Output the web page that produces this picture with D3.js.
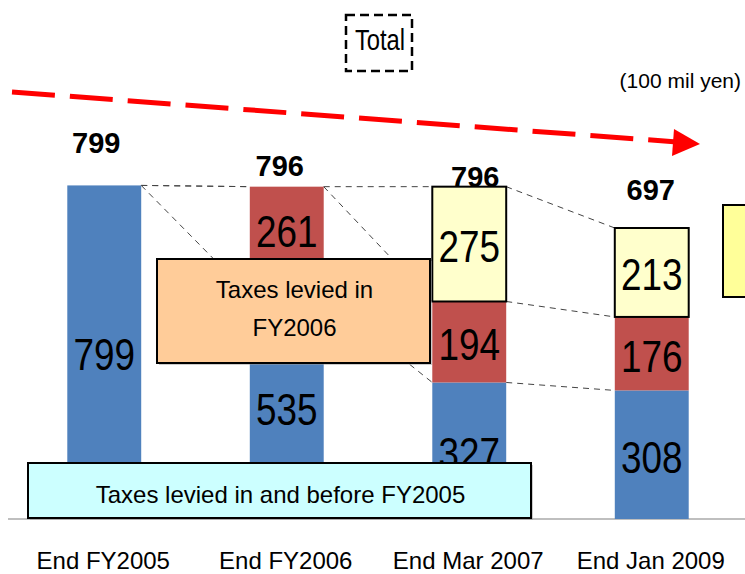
<!DOCTYPE html>
<html>
<head>
  <meta charset="utf-8">
  <title>Tax arrears breakdown</title>
  <script src="https://cdn.jsdelivr.net/npm/d3@7/dist/d3.min.js"></script>
  <style>
    body { margin: 0; background: #fff; }
    svg { display: block; font-family: "Liberation Sans", Arial, sans-serif; }
  </style>
</head>
<body>
  <svg width="745" height="574"></svg>

  <script>
    // data (100 mil yen)
    const categories = ["End FY2005", "End FY2006", "End Mar 2007", "End Jan 2009"];
    const before2005 = [799, 535, 327, 308];
    const fy2006 = [0, 261, 194, 176];
    const fy2007 = [0, 0, 275, 213];
    const totals = [799, 796, 796, 697];

    const blue = "#4F81BD", red = "#C0504D", yellow = "#FFFFCC";

    const svg = d3.select("svg");

    const x = d3.scaleBand()
      .domain(categories)
      .range([13, 743])
      .paddingInner(0.595)
      .paddingOuter(0.2975);

    const y = d3.scaleLinear()
      .domain([0, 800])
      .range([519, 185]);

    // stacked rows
    const rows = categories.map((c, i) => ({
      cat: c,
      segs: [
        { key: "b", v: before2005[i], y0: 0, y1: before2005[i], fill: blue },
        { key: "r", v: fy2006[i], y0: before2005[i], y1: before2005[i] + fy2006[i], fill: red },
        { key: "y", v: fy2007[i], y0: before2005[i] + fy2006[i], y1: before2005[i] + fy2006[i] + fy2007[i], fill: yellow }
      ].filter(s => s.v > 0)
    }));

    // connectors between bars
    const levels = categories.map((c, i) => [before2005[i], before2005[i] + fy2006[i], totals[i]]);
    const conn = svg.append("g");
    for (let i = 0; i < categories.length - 1; i++) {
      levels[i].forEach((v, k) => {
        conn.append("line")
          .attr("x1", x(categories[i]) + x.bandwidth())
          .attr("y1", y(v))
          .attr("x2", x(categories[i + 1]))
          .attr("y2", y(levels[i + 1][k]))
          .attr("stroke", "#444")
          .attr("stroke-width", 1)
          .attr("stroke-dasharray", "6,5");
      });
    }

    // axis baseline
    svg.append("line")
      .attr("x1", 8).attr("x2", 745)
      .attr("y1", y(0)).attr("y2", y(0))
      .attr("stroke", "#BFBFBF")
      .attr("stroke-width", 2);

    // bars
    const bars = svg.selectAll("g.bar")
      .data(rows)
      .enter()
      .append("g")
      .attr("class", "bar");

    bars.selectAll("rect")
      .data(d => d.segs.map(s => ({ ...s, cat: d.cat })))
      .enter()
      .append("rect")
      .attr("x", d => x(d.cat))
      .attr("y", d => y(d.y1))
      .attr("width", x.bandwidth())
      .attr("height", d => y(d.y0) - y(d.y1))
      .attr("fill", d => d.fill)
      .attr("stroke", d => d.key === "y" ? "#000" : "none")
      .attr("stroke-width", 2);

    // segment values, condensed look
    bars.selectAll("text.seg")
      .data(d => d.segs.map(s => ({ ...s, cat: d.cat })))
      .enter()
      .append("text")
      .attr("class", "seg")
      .attr("transform", d => {
        const cx = x(d.cat) + x.bandwidth() / 2;
        const cy = (y(d.y0) + y(d.y1)) / 2 + 18 - (d.key === "r" && d.y0 === 535 ? 12 : 0);
        return `translate(${cx},${cy}) scale(0.82,1)`;
      })
      .attr("text-anchor", "middle")
      .style("font-size", "45px")
      .attr("fill", "#000")
      .text(d => d.v);

    // totals above bars
    const totalOffset = [32, 11, 0, 28];
    svg.selectAll("text.total")
      .data(totals)
      .enter()
      .append("text")
      .attr("class", "total")
      .attr("x", (d, i) => x(categories[i]) + x.bandwidth() / 2 + [-8, -7, 6, -1][i])
      .attr("y", (d, i) => y(d) - totalOffset[i])
      .attr("text-anchor", "middle")
      .style("font-size", "29px")
      .style("font-weight", "bold")
      .text(d => d);

    // category labels
    svg.selectAll("text.cat")
      .data(categories)
      .enter()
      .append("text")
      .attr("class", "cat")
      .attr("x", d => x(d) + x.bandwidth() / 2 - 1)
      .attr("y", 569)
      .attr("text-anchor", "middle")
      .style("font-size", "24px")
      .text(d => d);

    // annotation boxes
    function box(x0, y0, w, h, fill, lines, ty, size) {
      svg.append("rect")
        .attr("x", x0 + 2).attr("y", y0 + 2)
        .attr("width", w).attr("height", h)
        .attr("fill", "#999").attr("opacity", 0.5);
      svg.append("rect")
        .attr("x", x0).attr("y", y0)
        .attr("width", w).attr("height", h)
        .attr("fill", fill)
        .attr("stroke", "#000")
        .attr("stroke-width", 2);
      lines.forEach((t, i) => {
        svg.append("text")
          .attr("x", x0 + w / 2 + 1)
          .attr("y", ty + i * 38)
          .attr("text-anchor", "middle")
          .style("font-size", size + "px")
          .text(t);
      });
    }
    box(157, 259, 273, 104, "#FFCC99", ["Taxes levied in", "FY2006"], 298, 24);
    box(28, 463, 503, 55, "#CCFFFF", ["Taxes levied in and before FY2005"], 503, 24);

    // partly visible box at right edge
    svg.append("rect")
      .attr("x", 723).attr("y", 205)
      .attr("width", 60).attr("height", 92)
      .attr("fill", "#FFFF99")
      .attr("stroke", "#000")
      .attr("stroke-width", 2);

    // "Total" legend
    svg.append("rect")
      .attr("x", 346).attr("y", 15)
      .attr("width", 66).attr("height", 56)
      .attr("fill", "none")
      .attr("stroke", "#000")
      .attr("stroke-width", 2.5)
      .attr("stroke-dasharray", "9,5");
    svg.append("text")
      .attr("transform", "translate(380,50) scale(0.82,1)")
      .attr("text-anchor", "middle")
      .style("font-size", "29px")
      .text("Total");

    // unit
    svg.append("text")
      .attr("x", 741).attr("y", 88)
      .attr("text-anchor", "end")
      .style("font-size", "21px")
      .text("(100 mil yen)");

    // red trend arrow
    svg.append("line")
      .attr("x1", 12).attr("y1", 92)
      .attr("x2", 677).attr("y2", 142)
      .attr("stroke", "#FF0000")
      .attr("stroke-width", 5)
      .attr("stroke-dasharray", "43,15");
    svg.append("path")
      .attr("d", "M674,129 L700,144 L672,156 Z")
      .attr("fill", "#FF0000");
  </script>
</body>
</html>
